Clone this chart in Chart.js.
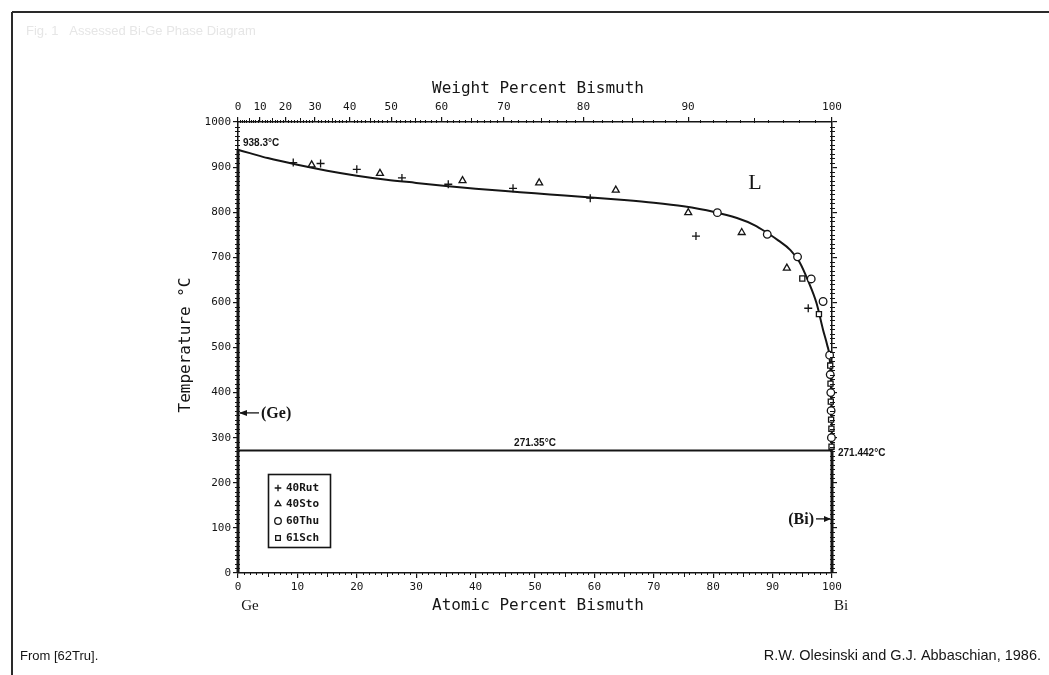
<!DOCTYPE html>
<html><head><meta charset="utf-8">
<script src="https://cdn.jsdelivr.net/npm/chart.js@4.4.1/dist/chart.umd.min.js"></script>
<style>html,body{margin:0;padding:0;background:#fff;}#wrap{width:1049px;height:675px;position:relative;}</style>
</head><body><div id="wrap"><canvas id="c" width="1049" height="675"></canvas></div>
<script>
// ---- data ----
const atomicTicks = [0,10,20,30,40,50,60,70,80,90,100];
const weightTickLabels = ['0','10','20','30','40','50','60','70','80','90','100'];
const tempTicks = [0,100,200,300,400,500,600,700,800,900,1000];

const liquidusX = [0,2,5,10,15,20,25,30,35,40,45,50,55,60,65,70,75,80,84,87,89,91,93,94.5,96,97.4,98.5,99.2,99.6,99.8,99.9,99.97,100];
const liquidusT = [938.3,931,920,905,892,881,872,865,858,852,847,842,837,832,827,821,813,801,787,771,755,737,716,690,647,598,539,505,478,430,370,300,271.442];

const eutecticX = [0,100];
const eutecticT = [271.35,271.35];
const geSolidX = [0,0];
const geSolidT = [0,938.3];
const biSolidX = [100,100];
const biSolidT = [0,271.442];

const seriesNames = ['40Rut','40Sto','60Thu','61Sch'];
const rutX = [9.3,13.9,20.0,27.6,35.4,46.3,59.3,77.1,96.0];
const rutT = [910,908,895,876,862,853,831,747,587];
const stoX = [12.4,23.9,37.8,50.7,63.6,75.8,84.8,92.4];
const stoT = [905,886,870,865,849,799,755,676];
const thuX = [80.7,89.1,94.2,96.5,98.5,99.6,99.7,99.8,99.85,99.9];
const thuT = [799,751,701,652,602,483,440,400,360,300];
const schX = [95.0,97.8,99.7,99.75,99.8,99.85,99.9,99.92];
const schT = [653,574,460,420,380,340,320,280];

const geArrowT = 355;
const biArrowT = 120;

// ---- helpers ----
const A_BI = 208.98, A_GE = 72.63;
function wt2at(w){ if(w>=100) return 100; if(w<=0) return 0; const nb=w/A_BI, ng=(100-w)/A_GE; return 100*nb/(nb+ng); }
function pts(xs,ys){ return xs.map((x,i)=>({x:x,y:ys[i]})); }

const INK = '#151515';
const MONO = '"DejaVu Sans Mono", monospace';

const lineDS = (label,xs,ys,w,extra)=>Object.assign({label:label,data:pts(xs,ys),showLine:true,borderColor:INK,borderWidth:w,pointRadius:0,fill:false,clip:false},extra||{});
const ptDS = (label,xs,ys,style,r)=>({label:label,data:pts(xs,ys),showLine:false,pointStyle:style,pointRadius:r,pointBorderWidth:1.3,borderColor:INK,backgroundColor:'#fff',pointBackgroundColor:'#fff',pointBorderColor:INK,clip:false});

const decor = {
  id:'decor',
  afterDraw(chart){
    const ctx = chart.ctx;
    const xs = chart.scales.x, ys = chart.scales.y;
    const L = chart.chartArea.left, R = chart.chartArea.right, T = chart.chartArea.top, B = chart.chartArea.bottom;
    ctx.save();
    ctx.strokeStyle = INK; ctx.fillStyle = INK; ctx.lineWidth = 1;
    // minor ticks
    ctx.beginPath();
    for(let t=10;t<1000;t+=10){ if(t%100===0) continue; const y=Math.round(ys.getPixelForValue(t))+0.5; ctx.moveTo(L-3,y); ctx.lineTo(L+2,y); ctx.moveTo(R-2,y); ctx.lineTo(R+3,y); }
    for(let a=1;a<100;a++){ if(a%10===0) continue; const x=Math.round(xs.getPixelForValue(a))+0.5; ctx.moveTo(x,B); ctx.lineTo(x,B+ (a%5===0?4:2)); }
    for(let w=1;w<100;w++){ if(w%10===0) continue; const x=Math.round(xs.getPixelForValue(wt2at(w)))+0.5; ctx.moveTo(x,T+1); ctx.lineTo(x,T-(w%5===0?4:2)); }
    ctx.stroke();
    // annotations
    ctx.textBaseline='middle';
    ctx.font='bold 10px "Liberation Sans", Arial, sans-serif';
    ctx.textAlign='left';
    ctx.fillText('938.3°C', L+5, T+21);
    ctx.textAlign='center';
    ctx.fillText('271.35°C', xs.getPixelForValue(50), ys.getPixelForValue(271.35)-7);
    ctx.textAlign='left';
    ctx.fillText('271.442°C', R+6, ys.getPixelForValue(271.442)+3);
    ctx.font='22px "Liberation Serif", serif';
    ctx.textAlign='center';
    ctx.fillText('L', 755, 183);
    // Ge arrow
    let yg = ys.getPixelForValue(geArrowT);
    ctx.lineWidth=1.3;
    ctx.beginPath(); ctx.moveTo(L+2,yg); ctx.lineTo(L+21,yg); ctx.stroke();
    ctx.beginPath(); ctx.moveTo(L+1,yg); ctx.lineTo(L+9,yg-3); ctx.lineTo(L+9,yg+3); ctx.closePath(); ctx.fill();
    ctx.font='bold 16px "Liberation Serif", serif';
    ctx.textAlign='left';
    ctx.fillText('(Ge)', L+23, yg+1);
    // Bi arrow
    let yb = ys.getPixelForValue(biArrowT);
    ctx.beginPath(); ctx.moveTo(R-16,yb); ctx.lineTo(R-2,yb); ctx.stroke();
    ctx.beginPath(); ctx.moveTo(R-1,yb); ctx.lineTo(R-8,yb-3); ctx.lineTo(R-8,yb+3); ctx.closePath(); ctx.fill();
    ctx.textAlign='right';
    ctx.fillText('(Bi)', R-18, yb+1);
    // legend
    ctx.lineWidth=1.6;
    ctx.strokeRect(268.5,474.5,62,73);
    const styles=['cross','triangle','circle','rect'];
    const ly=[488,504,521,538];
    ctx.font='bold 11px '+MONO;
    ctx.textAlign='left';
    for(let i=0;i<4;i++){
      ctx.lineWidth=1.3; ctx.strokeStyle=INK; ctx.fillStyle='#fff';
      Chart.helpers.drawPoint(ctx,{pointStyle:styles[i],radius:3.3,borderWidth:1.3},278,ly[i]);
      ctx.fillStyle=INK;
      ctx.fillText(seriesNames[i],286,ly[i]);
    }
    // axis titles
    ctx.font='16px '+MONO;
    ctx.textAlign='center';
    ctx.fillText('Weight Percent Bismuth', 538, 89);
    ctx.fillText('Atomic Percent Bismuth', 538, 606);
    ctx.save(); ctx.translate(186,345); ctx.rotate(-Math.PI/2); ctx.fillText('Temperature °C',0,0); ctx.restore();
    ctx.font='15px "Liberation Serif", serif';
    ctx.fillText('Ge', L+12, 606);
    ctx.fillText('Bi', R+9, 606);
    // footer
    ctx.font='13px "Liberation Sans", Arial, sans-serif';
    ctx.textAlign='left';
    ctx.fillText('From [62Tru].', 20, 656);
    ctx.font='14.5px "Liberation Sans", Arial, sans-serif';
    ctx.textAlign='right';
    ctx.fillText('R.W. Olesinski and G.J. Abbaschian, 1986.', 1041, 656);
    // faint caption
    ctx.fillStyle='#e6e6e6';
    ctx.font='13px "Liberation Sans", Arial, sans-serif';
    ctx.textAlign='left';
    ctx.fillText('Fig. 1   Assessed Bi-Ge Phase Diagram', 26, 31);
    // frame
    ctx.strokeStyle='#2a2a2a'; ctx.lineWidth=2;
    ctx.beginPath(); ctx.moveTo(12,12); ctx.lineTo(1049,12); ctx.moveTo(12,12); ctx.lineTo(12,675); ctx.stroke();
    ctx.restore();
  }
};

const tickFont = {family:'"DejaVu Sans Mono", monospace', size:11};
const gridOpt = (len)=>({display:true,drawOnChartArea:false,drawTicks:true,tickLength:len,color:INK,lineWidth:1.2});
const borderOpt = {display:true,color:INK,width:1.5};

new Chart(document.getElementById('c'),{
  type:'scatter',
  data:{datasets:[
    ptDS(seriesNames[0],rutX,rutT,'cross',4),
    ptDS(seriesNames[1],stoX,stoT,'triangle',4),
    ptDS(seriesNames[2],thuX,thuT,'circle',3.8),
    ptDS(seriesNames[3],schX,schT,'rect',3.6),
    lineDS('Liquidus',liquidusX,liquidusT,2,{cubicInterpolationMode:'monotone'}),
    lineDS('Eutectic',eutecticX,eutecticT,2),
    lineDS('Ge',geSolidX,geSolidT,3),
    lineDS('Bi',biSolidX,biSolidT,3)
  ]},
  options:{
    responsive:false, animation:false, devicePixelRatio:1,
    layout:{padding:0},
    plugins:{legend:{display:false},tooltip:{enabled:false},title:{display:false}},
    scales:{
      x:{type:'linear',position:'bottom',min:0,max:100,
        afterFit(s){s.height=102;},
        afterBuildTicks(s){s.ticks=atomicTicks.map(v=>({value:v}));},
        ticks:{font:tickFont,color:INK,padding:3,maxRotation:0,autoSkip:false,callback:(v)=>String(v)},
        grid:gridOpt(5),border:borderOpt},
      x2:{type:'linear',position:'top',min:0,max:100,
        afterFit(s){s.height=122;},
        afterBuildTicks(s){s.ticks=weightTickLabels.map(w=>({value:wt2at(Number(w))}));},
        ticks:{font:tickFont,color:INK,padding:3,maxRotation:0,autoSkip:false,callback:(v,i)=>weightTickLabels[i]},
        grid:gridOpt(5),border:borderOpt},
      y:{type:'linear',position:'left',min:0,max:1000,
        afterFit(s){s.width=238;},
        afterBuildTicks(s){s.ticks=tempTicks.map(v=>({value:v}));},
        ticks:{font:tickFont,color:INK,padding:2,autoSkip:false,callback:(v)=>String(v)},
        grid:gridOpt(5),border:borderOpt},
      y2:{type:'linear',position:'right',min:0,max:1000,
        afterFit(s){s.width=217;},
        afterBuildTicks(s){s.ticks=tempTicks.map(v=>({value:v}));},
        ticks:{display:false},
        grid:gridOpt(5),border:borderOpt}
    }
  },
  plugins:[decor]
});
</script></body></html>
